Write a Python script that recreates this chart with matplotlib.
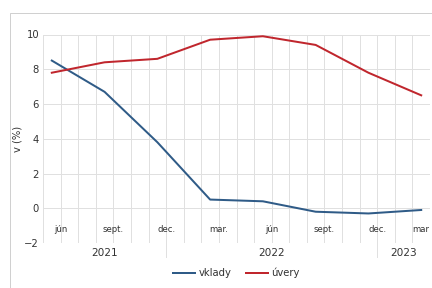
import matplotlib.pyplot as plt
from matplotlib.patches import Rectangle
from matplotlib.lines import Line2D

# quarterly points on a monthly axis (jún 2021 .. mar 2023)
months = ['jún', 'sept.', 'dec.', 'mar.', 'jún', 'sept.', 'dec.', 'mar']
month_idx = [0, 3, 6, 9, 12, 15, 18, 21]
vklady = [8.5, 6.7, 3.8, 0.5, 0.4, -0.2, -0.3, -0.1]
uvery = [7.8, 8.4, 8.6, 9.7, 9.9, 9.4, 7.8, 6.5]
years = ['2021', '2022', '2023']
year_spans = [(-0.5, 6.5), (6.5, 18.5), (18.5, 21.5)]

BLUE = '#2f5b87'
RED = '#c0262d'
GRID = '#e0e0e0'
TXT = '#333333'

fig = plt.figure(figsize=(6, 4), dpi=72)
fig.patches.append(Rectangle((10 / 432, -0.1), 1.1, 1 - 13 / 288 + 0.1,
                             transform=fig.transFigure, fill=False,
                             edgecolor='#d0d0d0', linewidth=1))
ax = fig.add_axes([43 / 432, 1 - 243 / 288, 387 / 432, 208.5 / 288])

ax.set_xlim(-0.5, 21.5)
ax.set_ylim(-2, 10)
for k in range(23):
    ax.axvline(k - 0.5, color=GRID, lw=1, zorder=0)
for v in range(-2, 11, 2):
    ax.axhline(v, color=GRID, lw=1, zorder=0)
for s in ax.spines.values():
    s.set_visible(False)

ax.plot(month_idx, vklady, color=BLUE, lw=2, label='vklady')
ax.plot(month_idx, uvery, color=RED, lw=2, label='úvery')

ax.set_yticks(range(-2, 11, 2))
ax.set_xticks([])
ax.tick_params(axis='y', length=0, pad=4, labelsize=10, colors=TXT)
ax.set_ylabel('v (%)', fontsize=10, color=TXT, labelpad=2)

for m, i in zip(months, month_idx):
    x = i + 0.5 if i < 21 else i - 0.05
    ax.text(x, -1.2, m, ha='center', va='center', fontsize=8.5, color=TXT)

trans = ax.get_xaxis_transform()
for (a, b), y in zip(year_spans, years):
    ax.text((a + b) / 2, -0.025, y, transform=trans, ha='center', va='top',
            fontsize=10.5, color=TXT)
for x in [6.5, 18.5]:
    ax.add_line(Line2D([x, x], [0, -0.065], transform=trans, color=GRID,
                       lw=1, clip_on=False))

ax.legend(loc='upper center', bbox_to_anchor=(0.5, -0.075), ncol=2,
          frameon=False, fontsize=10, handlelength=2.2, handletextpad=0.3,
          columnspacing=1.5, labelcolor=TXT)

fig.savefig('out.png', dpi=72)
